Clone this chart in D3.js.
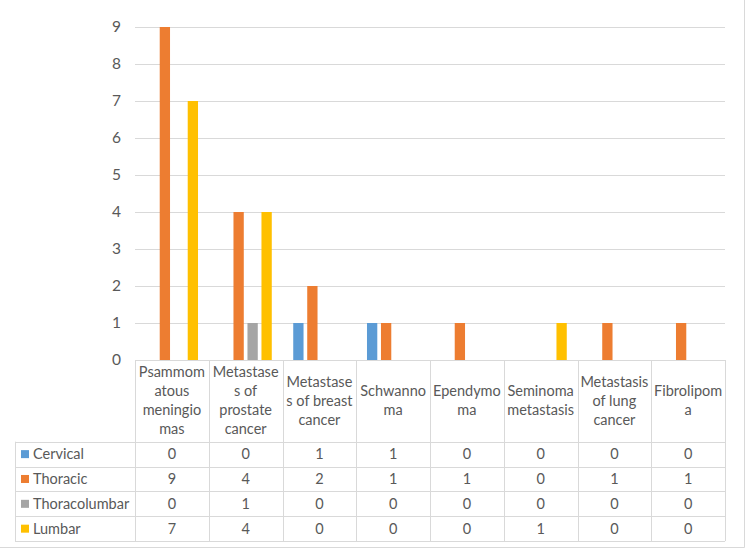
<!DOCTYPE html>
<html>
<head>
<meta charset="utf-8">
<script src="https://cdn.jsdelivr.net/npm/d3@7"></script>
<style>
  body { margin: 0; background: #fff; }
  svg text { font-family: Lato, "Open Sans", sans-serif; fill: #595959; }
</style>
</head>
<body>
<svg id="chart" width="750" height="557"></svg>
<script>
// categories, each split into the lines shown in the table header
const categories = [
  ["Psammom", "atous", "meningio", "mas"],
  ["Metastase", "s of", "prostate", "cancer"],
  ["Metastase", "s of breast", "cancer"],
  ["Schwanno", "ma"],
  ["Ependymo", "ma"],
  ["Seminoma", "metastasis"],
  ["Metastasis", "of lung", "cancer"],
  ["Fibrolipom", "a"]
];
const seriesNames = ["Cervical", "Thoracic", "Thoracolumbar", "Lumbar"];
const cervical = [0, 0, 1, 1, 0, 0, 0, 0];
const thoracic = [9, 4, 2, 1, 1, 0, 1, 1];
const thoracolumbar = [0, 1, 0, 0, 0, 0, 0, 0];
const lumbar = [7, 4, 0, 0, 0, 1, 0, 0];
const yTicks = [0, 1, 2, 3, 4, 5, 6, 7, 8, 9];

const colors = ["#5b9bd5", "#ed7d31", "#a5a5a5", "#ffc000"];
const seriesValues = [cervical, thoracic, thoracolumbar, lumbar];

const svg = d3.select("#chart");
const plot = { left: 135, right: 725, top: 27, bottom: 360 };
const table = { left: 15, headerBottom: 441.7, rowH: 24.85 };
const gridColor = "#d9d9d9";
const fontSize = 14.5;

// outer chart frame
svg.append("path")
    .attr("d", "M744.5,0V547.5H0")
    .attr("fill", "none")
    .attr("stroke", "#d9d9d9");

const x = d3.scaleBand()
    .domain(d3.range(categories.length))
    .range([plot.left, plot.right])
    .padding(0);

const xInner = d3.scaleBand()
    .domain(d3.range(seriesNames.length))
    .range([0, x.bandwidth()])
    .paddingInner(0.264)
    .paddingOuter(0.767);

const y = d3.scaleLinear()
    .domain([0, 9])
    .range([plot.bottom, plot.top]);

// gridlines
svg.append("g")
  .selectAll("line")
  .data(yTicks.filter(d => d > 0))
  .join("line")
    .attr("x1", plot.left)
    .attr("x2", plot.right)
    .attr("y1", d => Math.round(y(d)) + 0.5)
    .attr("y2", d => Math.round(y(d)) + 0.5)
    .attr("stroke", gridColor);

// y tick labels
svg.append("g")
  .selectAll("text")
  .data(yTicks)
  .join("text")
    .attr("x", 121)
    .attr("y", d => y(d))
    .attr("dy", "0.35em")
    .attr("text-anchor", "end")
    .attr("font-size", 15.5)
    .text(d => d);

// bars
const groups = svg.append("g")
  .selectAll("g")
  .data(seriesValues)
  .join("g")
    .attr("fill", (d, i) => colors[i]);

groups.each(function(vals, si) {
  d3.select(this).selectAll("rect")
    .data(vals)
    .join("rect")
      .attr("x", (d, ci) => x(ci) + xInner(si))
      .attr("width", xInner.bandwidth())
      .attr("y", d => y(d))
      .attr("height", d => y(0) - y(d));
});

// data table lines
const tableBottom = table.headerBottom + table.rowH * seriesNames.length;
const lines = svg.append("g").attr("stroke", gridColor).attr("fill", "none");
// top of table / axis line
lines.append("line")
    .attr("x1", plot.left).attr("x2", plot.right)
    .attr("y1", plot.bottom + 0.5).attr("y2", plot.bottom + 0.5);
// horizontal row lines
d3.range(seriesNames.length + 1).forEach(i => {
  const yy = Math.round(table.headerBottom + i * table.rowH) + 0.5;
  lines.append("line")
      .attr("x1", table.left).attr("x2", plot.right)
      .attr("y1", yy).attr("y2", yy);
});
// vertical column lines
d3.range(categories.length + 1).forEach(i => {
  const xx = Math.round(plot.left + i * x.bandwidth()) + 0.5;
  lines.append("line")
      .attr("x1", xx).attr("x2", xx)
      .attr("y1", plot.bottom).attr("y2", tableBottom);
});
lines.append("line")
    .attr("x1", table.left + 0.5).attr("x2", table.left + 0.5)
    .attr("y1", table.headerBottom).attr("y2", tableBottom);

// header labels
const headerMid = (plot.bottom + table.headerBottom) / 2;
const lineH = 19;
svg.append("g")
  .selectAll("text")
  .data(categories)
  .join("text")
    .attr("text-anchor", "middle")
    .attr("font-size", fontSize)
    .each(function(lns, ci) {
      const t = d3.select(this);
      const y0 = headerMid - (lns.length - 1) * lineH / 2;
      lns.forEach((ln, k) => {
        t.append("tspan")
            .attr("x", x(ci) + x.bandwidth() / 2)
            .attr("y", y0 + k * lineH)
            .attr("dy", "0.35em")
            .text(ln);
      });
    });

// legend rows + values
seriesNames.forEach((name, si) => {
  const rowMid = table.headerBottom + (si + 0.5) * table.rowH;
  svg.append("rect")
      .attr("x", 21)
      .attr("y", rowMid - 4)
      .attr("width", 8)
      .attr("height", 8)
      .attr("fill", colors[si]);
  svg.append("text")
      .attr("x", 33)
      .attr("y", rowMid)
      .attr("dy", "0.35em")
      .attr("font-size", fontSize)
      .text(name);
  svg.append("g")
    .selectAll("text")
    .data(seriesValues[si])
    .join("text")
      .attr("x", (d, ci) => x(ci) + x.bandwidth() / 2)
      .attr("y", rowMid)
      .attr("dy", "0.35em")
      .attr("text-anchor", "middle")
      .attr("font-size", fontSize)
      .text(d => d);
});
</script>
</body>
</html>
